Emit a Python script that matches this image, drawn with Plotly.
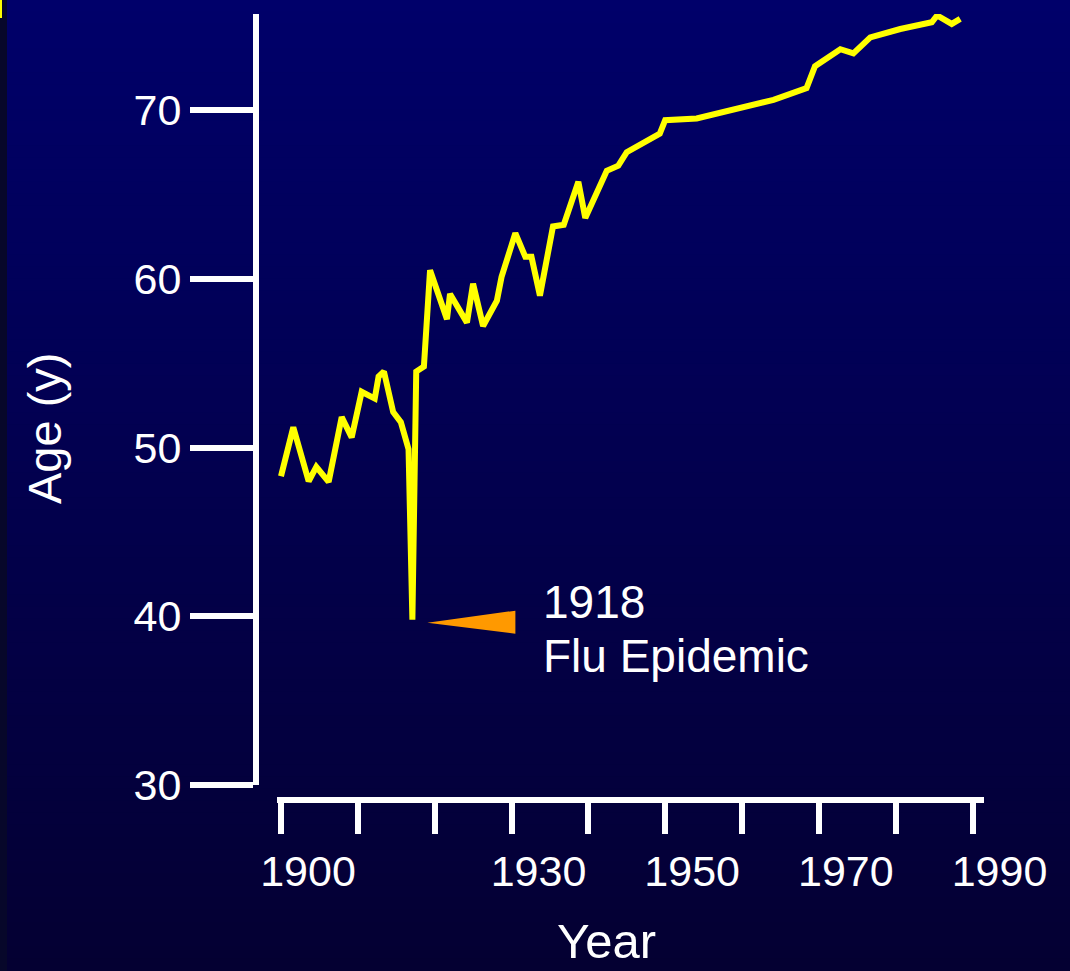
import plotly.graph_objects as go

# ---- data ----
years = [1900.0, 1901.6, 1903.6, 1904.6, 1906.2, 1907.9, 1909.2, 1910.5, 1912.2, 1912.7,
         1913.4, 1914.6, 1915.6, 1916.6, 1917.1, 1917.6, 1918.6, 1919.4, 1921.6, 1922.0,
         1924.2, 1925.0, 1926.3, 1928.1, 1928.7, 1930.5, 1931.8, 1932.6, 1933.7, 1935.4,
         1936.8, 1938.7, 1939.6, 1942.4, 1943.9, 1945.0, 1949.3, 1950.0, 1954.1, 1959.7,
         1964.1, 1968.4, 1969.5, 1972.8, 1974.5, 1976.7, 1980.6, 1984.7, 1985.4, 1987.3,
         1988.4]
ages = [48.3, 51.2, 48.0, 48.85, 47.96, 51.8, 50.6, 53.3, 52.9, 54.2,
        54.5, 52.1, 51.5, 49.9, 39.8, 54.5, 54.8, 60.5, 57.6, 59.1,
        57.4, 59.7, 57.2, 58.7, 60.1, 62.7, 61.3, 61.3, 59.0, 63.1,
        63.2, 65.75, 63.6, 66.4, 66.7, 67.5, 68.6, 69.4, 69.5, 70.1,
        70.6, 71.3, 72.6, 73.6, 73.35, 74.3, 74.8, 75.2, 75.6, 75.1,
        75.4]

y_ticks = [30, 40, 50, 60, 70]
x_ticks = [1900, 1910, 1920, 1930, 1940, 1950, 1960, 1970, 1980, 1990]
x_tick_text = ["1900", "", "", "1930", "", "1950", "", "1970", "", "1990"]
x_title = "Year"
y_title = "Age (y)"
note_line1 = "1918"
note_line2 = "Flu Epidemic"

# ---- layout geometry ----
W, H = 1070, 971
L, R, T, B = 256, 86, 14, 171
pw = W - L - R
ph = H - T - B
bottom_px = H - B

def px_x(x):
    return (x - L) / pw

def px_y(y):
    return (bottom_px - y) / ph

FONT = "Liberation Sans, Arial, sans-serif"

fig = go.Figure()
fig.add_trace(go.Scatter(
    x=years, y=ages, mode="lines",
    line=dict(color="#ffff00", width=6),
    hoverinfo="skip", showlegend=False,
))

shapes = []
# vertical gradient background
n = 80
top_c = (0, 0, 106)
bot_c = (4, 0, 50)
for i in range(n):
    t0 = i / n
    t1 = (i + 1) / n
    tm = (t0 + t1) / 2
    c = tuple(round(top_c[k] + (bot_c[k] - top_c[k]) * tm) for k in range(3))
    shapes.append(dict(
        type="rect", xref="paper", yref="paper", layer="below",
        x0=px_x(0), x1=px_x(W), y0=px_y(t0 * H - 0.5), y1=px_y(t1 * H + 0.5),
        line=dict(width=0), fillcolor="rgb(%d,%d,%d)" % c,
    ))
# dark strip on the left edge and small yellow mark
shapes.append(dict(type="rect", xref="paper", yref="paper", layer="below",
                   x0=px_x(0), x1=px_x(7), y0=px_y(H), y1=px_y(0),
                   line=dict(width=0), fillcolor="#07072a"))
shapes.append(dict(type="rect", xref="paper", yref="paper", layer="above",
                   x0=px_x(0), x1=px_x(2), y0=px_y(18), y1=px_y(0),
                   line=dict(width=0), fillcolor="#ffff00"))
# orange pointer wedge anchored at the 1918 minimum
imin = ages.index(min(ages))
shapes.append(dict(
    type="path", xref="x", yref="y", xsizemode="pixel", ysizemode="pixel",
    xanchor=years[imin], yanchor=ages[imin], layer="above",
    path="M 15,-3 L 103,9 L 103,-14 Z",
    fillcolor="#ff9900", line=dict(width=0),
))

annotations = [
    dict(text=y_title, xref="paper", yref="paper", x=px_x(44), y=px_y(428),
         textangle=-90, showarrow=False, xanchor="center", yanchor="middle",
         font=dict(family=FONT, size=47, color="white")),
    dict(text=x_title, xref="paper", yref="paper", x=px_x(606), y=px_y(941),
         showarrow=False, xanchor="center", yanchor="middle",
         font=dict(family=FONT, size=49, color="white")),
    dict(text=note_line1, xref="paper", yref="paper", x=px_x(541), y=px_y(602),
         showarrow=False, xanchor="left", yanchor="middle",
         font=dict(family=FONT, size=46, color="white")),
    dict(text=note_line2, xref="paper", yref="paper", x=px_x(541), y=px_y(656),
         showarrow=False, xanchor="left", yanchor="middle",
         font=dict(family=FONT, size=46, color="white")),
]

k = (972.5 - 281) / 90.0
x0_rng = 1900 - (281 - 277) / k
x1_rng = 1990 + (984 - 972.5) / k
py = 16.875
y1_rng = 30 + (785 - T) / py

fig.update_layout(
    width=W, height=H,
    margin=dict(l=L, r=R, t=T, b=B, pad=0),
    paper_bgcolor="#000048",
    plot_bgcolor="rgba(0,0,0,0)",
    showlegend=False,
    shapes=shapes,
    annotations=annotations,
    xaxis=dict(
        domain=[px_x(277), 1], range=[x0_rng, x1_rng],
        anchor="free", position=0,
        showgrid=False, zeroline=False,
        showline=True, linecolor="white", linewidth=6,
        ticks="outside", ticklen=31, tickwidth=6, tickcolor="white",
        tickvals=x_ticks, ticktext=x_tick_text, ticklabelshift=27,
        tickfont=dict(family=FONT, size=43, color="white"),
    ),
    yaxis=dict(
        domain=[px_y(785), 1], range=[30, y1_rng],
        anchor="free", position=0,
        showgrid=False, zeroline=False,
        showline=True, linecolor="white", linewidth=6,
        ticks="outside", ticklen=63, tickwidth=6, tickcolor="white",
        tickvals=y_ticks,
        tickfont=dict(family=FONT, size=43, color="white"),
    ),
)

fig.write_html(
    "out.html",
    config={"displayModeBar": False},
    post_script="document.body.style.margin='0';"
                "document.body.style.overflow='hidden';"
                "document.body.style.background='#000030';",
)
